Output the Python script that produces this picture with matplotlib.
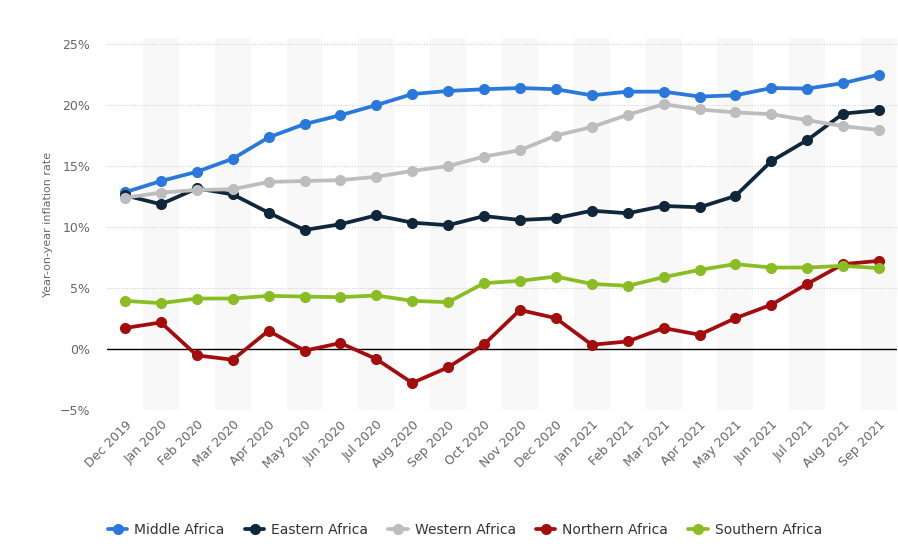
import matplotlib
matplotlib.use("Agg")
import matplotlib.pyplot as plt
from matplotlib.ticker import FuncFormatter

months = ["Dec 2019", "Jan 2020", "Feb 2020", "Mar 2020", "Apr 2020", "May 2020",
          "Jun 2020", "Jul 2020", "Aug 2020", "Sep 2020", "Oct 2020", "Nov 2020",
          "Dec 2020", "Jan 2021", "Feb 2021", "Mar 2021", "Apr 2021", "May 2021",
          "Jun 2021", "Jul 2021", "Aug 2021", "Sep 2021"]

middle_africa = [12.85, 13.77, 14.53, 15.6, 17.35, 18.44, 19.17, 20.0, 20.9, 21.16, 21.3,
                 21.4, 21.3, 20.8, 21.1, 21.1, 20.7, 20.8, 21.4, 21.35, 21.8, 22.5]
eastern_africa = [12.6, 11.87, 13.17, 12.68, 11.18, 9.76, 10.23, 10.96, 10.36, 10.15, 10.9,
                  10.58, 10.72, 11.34, 11.13, 11.73, 11.62, 12.55, 15.4, 17.13, 19.3, 19.58]
western_africa = [12.4, 12.82, 13.04, 13.1, 13.7, 13.77, 13.85, 14.12, 14.6, 15.0, 15.78,
                  16.3, 17.5, 18.2, 19.2, 20.07, 19.64, 19.4, 19.25, 18.76, 18.27, 17.95]
northern_africa = [1.72, 2.18, -0.52, -0.88, 1.5, -0.14, 0.49, -0.82, -2.78, -1.5, 0.38,
                   3.2, 2.53, 0.35, 0.62, 1.72, 1.17, 2.53, 3.63, 5.34, 6.96, 7.23]
southern_africa = [3.95, 3.76, 4.14, 4.14, 4.36, 4.3, 4.25, 4.39, 3.95, 3.84, 5.4,
                   5.59, 5.94, 5.34, 5.18, 5.89, 6.49, 6.96, 6.68, 6.68, 6.82, 6.63]

series = [
    ("Middle Africa", middle_africa, "#2a78dc"),
    ("Eastern Africa", eastern_africa, "#10273b"),
    ("Western Africa", western_africa, "#bdbdbd"),
    ("Northern Africa", northern_africa, "#a30d0d"),
    ("Southern Africa", southern_africa, "#8abd24"),
]

y_ticks = [-5, 0, 5, 10, 15, 20, 25]

fig = plt.figure(figsize=(8.98, 5.59), dpi=100)
ax = fig.add_axes([107 / 898, 1 - 410 / 559, (897 - 107) / 898, (410 - 38) / 559])

x = list(range(len(months)))
ax.set_xlim(-0.5, len(months) - 0.5)
ax.set_ylim(-5, 25.5)

# alternating column shading
for i in x:
    if i % 2 == 1:
        ax.axvspan(i - 0.5, i + 0.5, color="#f8f8f8", zorder=0, lw=0)

# grid
for t in y_ticks:
    if t != 0:
        ax.axhline(t, color="#cfcfcf", lw=0.8, ls=(0, (1, 1.5)), zorder=1)
ax.axhline(0, color="#000000", lw=1.0, zorder=2)

for name, vals, col in series:
    ax.plot(x, vals, color=col, lw=2.7, marker="o", markersize=7, label=name,
            zorder=3, solid_capstyle="round")

ax.set_yticks(y_ticks)
ax.yaxis.set_major_formatter(FuncFormatter(lambda v, p: f"{int(v)}%".replace("-", "\u2212")))
ax.set_xticks(x)
ax.set_xticklabels(months, rotation=45, ha="right", rotation_mode="anchor")
ax.tick_params(axis="both", length=0, colors="#666666", labelsize=9)
ax.tick_params(axis="y", pad=12)
ax.tick_params(axis="x", pad=6)
for s in ax.spines.values():
    s.set_visible(False)

ax.set_ylabel("Year-on-year inflation rate", color="#666666", fontsize=8, labelpad=5)

handles, labels = ax.get_legend_handles_labels()
fig.legend(handles, labels, loc="center", bbox_to_anchor=(465 / 898, 1 - 530 / 559),
           ncol=5, frameon=False, fontsize=10, handlelength=1.4, handletextpad=0.5,
           columnspacing=1.45, labelcolor="#333333")

fig.savefig("out.png", dpi=100)
